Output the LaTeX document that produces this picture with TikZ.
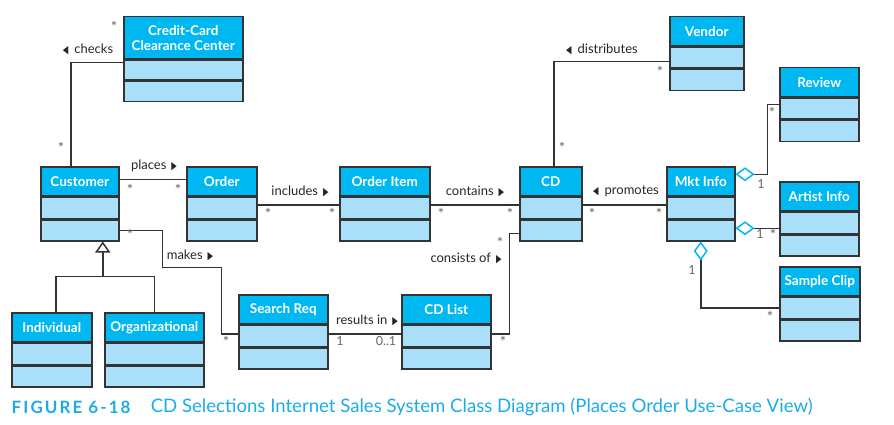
\documentclass[tikz,border=0pt]{standalone}
\usepackage{fontspec}
\usepackage{graphicx}
\setmainfont{Lato}
\newfontfamily\symfont{DejaVu Sans}
\newfontfamily\figfont[LetterSpace=12]{Lato}
\usetikzlibrary{arrows.meta}
\definecolor{headblue}{HTML}{00B8F1}
\definecolor{compblue}{HTML}{A9DFF9}
\definecolor{linegray}{HTML}{333333}
\definecolor{capblue}{HTML}{1AACE8}
\newcommand{\dirright}{\hspace{5pt}{\symfont\fontsize{11}{11}\selectfont\scalebox{0.65}[1]{▶}}}
\newcommand{\dirleft}{{\symfont\fontsize{11}{11}\selectfont\scalebox{0.65}[1]{◀}}\hspace{6pt}}
\begin{document}
\begin{tikzpicture}[x=1pt, y=-1pt, line width=1.5pt, draw=linegray,
    head/.style={draw=linegray, fill=headblue, text=white, font=\bfseries\fontsize{13.5}{15}\selectfont,
      minimum height=29pt, inner sep=0pt, anchor=north west, align=center},
    comp/.style={draw=linegray, fill=compblue, minimum height=21pt, inner sep=0pt, anchor=north},
    role/.style={font=\fontsize{13}{15}\selectfont, text=black!85, inner sep=0pt},
    mult/.style={font=\fontsize{12.5}{14}\selectfont, text=black!60, inner sep=0pt},
    star/.style={font=\fontsize{15}{16}\selectfont, text=black!60, inner sep=0pt},
    agg/.style={{Diamond[open, length=19pt, width=14pt, color=headblue]}-},
    gen/.style={{Triangle[open, length=11pt, width=15pt]}-}]
        \useasboundingbox (0,0) rectangle (894,425);

        % classes
        \node[head, minimum width=119pt, minimum height=42pt] (ccc) at (123,16) {Credit-Card\\Clearance Center};
        \node[comp, minimum width=119pt, minimum height=20pt] (ccc1) at (ccc.south) {};
        \node[comp, minimum width=119pt, minimum height=20pt] (ccc2) at (ccc1.south) {};

        \node[head, minimum width=78pt] (cust) at (40,166) {Customer};
        \node[comp, minimum width=78pt] (cust1) at (cust.south) {};
        \node[comp, minimum width=78pt] (cust2) at (cust1.south) {};

        \node[head, minimum width=70pt] (order) at (186,166) {Order};
        \node[comp, minimum width=70pt] (order1) at (order.south) {};
        \node[comp, minimum width=70pt] (order2) at (order1.south) {};

        \node[head, minimum width=90pt] (item) at (339,166) {Order Item};
        \node[comp, minimum width=90pt] (item1) at (item.south) {};
        \node[comp, minimum width=90pt] (item2) at (item1.south) {};

        \node[head, minimum width=62pt] (cd) at (519,166) {CD};
        \node[comp, minimum width=62pt] (cd1) at (cd.south) {};
        \node[comp, minimum width=62pt] (cd2) at (cd1.south) {};

        \node[head, minimum width=74pt] (vendor) at (669,16) {Vendor};
        \node[comp, minimum width=74pt] (vendor1) at (vendor.south) {};
        \node[comp, minimum width=74pt] (vendor2) at (vendor1.south) {};

        \node[head, minimum width=68pt] (mkt) at (666,166) {Mkt Info};
        \node[comp, minimum width=68pt] (mkt1) at (mkt.south) {};
        \node[comp, minimum width=68pt] (mkt2) at (mkt1.south) {};

        \node[head, minimum width=79pt] (review) at (779,67) {Review};
        \node[comp, minimum width=79pt] (review1) at (review.south) {};
        \node[comp, minimum width=79pt] (review2) at (review1.south) {};

        \node[head, minimum width=79pt] (artist) at (779,181) {Artist Info};
        \node[comp, minimum width=79pt] (artist1) at (artist.south) {};
        \node[comp, minimum width=79pt] (artist2) at (artist1.south) {};

        \node[head, minimum width=80pt] (clip) at (779,266) {Sample Clip};
        \node[comp, minimum width=80pt] (clip1) at (clip.south) {};
        \node[comp, minimum width=80pt] (clip2) at (clip1.south) {};

        \node[head, minimum width=80pt] (indiv) at (11,312) {Individual};
        \node[comp, minimum width=80pt] (indiv1) at (indiv.south) {};
        \node[comp, minimum width=80pt] (indiv2) at (indiv1.south) {};

        \node[head, minimum width=99pt] (organ) at (104,312) {Organizational};
        \node[comp, minimum width=99pt] (organ1) at (organ.south) {};
        \node[comp, minimum width=99pt] (organ2) at (organ1.south) {};

        \node[head, minimum width=89pt] (search) at (238,294) {Search Req};
        \node[comp, minimum width=89pt] (search1) at (search.south) {};
        \node[comp, minimum width=89pt] (search2) at (search1.south) {};

        \node[head, minimum width=89pt] (cdlist) at (401,294) {CD List};
        \node[comp, minimum width=89pt] (cdlist1) at (cdlist.south) {};
        \node[comp, minimum width=89pt] (cdlist2) at (cdlist1.south) {};

        % associations
        \draw ([xshift=-9pt]cust.north) |- ([yshift=-3pt]ccc1.north west);
        \draw ([yshift=2pt]cust.east) -- ([yshift=2pt]order.west);
        \draw ([yshift=3pt]order1.east) -- ([yshift=3pt]item1.west);
        \draw ([yshift=3pt]item1.east) -- ([yshift=3pt]cd1.west);
        \draw ([yshift=3pt]mkt1.west) -- ([yshift=3pt]cd1.east);
        \draw ([xshift=3pt]cd.north) |- ([yshift=-4pt]vendor1.west);
        \draw (cust2.east) -- ++(43,0) -- ++(0,37) -- ++(59,0) |- ([yshift=2pt]search1.west);
        \draw ([yshift=2pt]search1.east) -- ([yshift=2pt]cdlist1.west);
        \draw ([yshift=2pt]cdlist1.east) -- ++(18,0) |- ([yshift=-3pt]cd2.west);

        % aggregation
        \draw[agg] ([yshift=7pt]mkt.east) -- ++(32,0) |- ([yshift=4pt]review1.west);
        \draw[agg] ([yshift=2pt]mkt2.east) -- ([yshift=2pt]mkt2.east -| artist1.west);
        \draw[agg] (mkt2.south) |- (clip1.west);

        % generalization
        \draw[gen] ([xshift=23pt]cust2.south) -- ++(0,35) coordinate (split);
        \draw ([xshift=4pt]indiv.north) |- (split) -| (organ.north);

        % labels
        \node[role] (checks) at (88,49) {\dirleft checks};
        \node[role] (places) at (154,166) {places\dirright};
        \node[role] (includes) at (300,191) {includes\dirright};
        \node[role] (contains) at (475,191) {contains\dirright};
        \node[role] (promotes) at (626,191) {\dirleft promotes};
        \node[role] (distributes) at (602,49) {\dirleft distributes};
        \node[role] (makes) at (190,255) {makes\dirright};
        \node[role] (results) at (367,320) {results in\dirright};
        \node[role] (consists) at (466,258) {consists of\dirright};

        % multiplicities
        \node[star] (m1) at (114,27) {*};
        \node[star] (m2) at (61,148) {*};
        \node[star] (m3) at (130,190) {*};
        \node[star] (m4) at (178,190) {*};
        \node[star] (m5) at (268,214) {*};
        \node[star] (m6) at (332,214) {*};
        \node[star] (m7) at (441,214) {*};
        \node[star] (m8) at (510,214) {*};
        \node[star] (m9) at (592,214) {*};
        \node[star] (m10) at (659,214) {*};
        \node[star] (m11) at (562,148) {*};
        \node[star] (m12) at (660,72) {*};
        \node[mult] (m13) at (761,184) {1};
        \node[star] (m14) at (772,113) {*};
        \node[mult] (m15) at (760,234) {1};
        \node[star] (m16) at (773,235) {*};
        \node[mult] (m17) at (692,270) {1};
        \node[star] (m18) at (770,317) {*};
        \node[star] (m19) at (130,235) {*};
        \node[star] (m20) at (226,342) {*};
        \node[mult] (m21) at (340,341) {1};
        \node[mult] (m22) at (386,341) {0..1};
        \node[star] (m23) at (500,243) {*};
        \node[star] (m24) at (503,342) {*};

        % caption
        \node[anchor=west, text=capblue, inner sep=0pt, font=\fontsize{17}{20}\selectfont] (figno) at (11,407) {\figfont\bfseries FIGURE 6-18};
        \node[anchor=west, text=capblue, inner sep=0pt, font=\fontsize{18.6}{21}\selectfont] (figtitle) at (150,407) {CD Selections Internet Sales System Class Diagram (Places Order Use-Case View)};
\end{tikzpicture}
\end{document}
